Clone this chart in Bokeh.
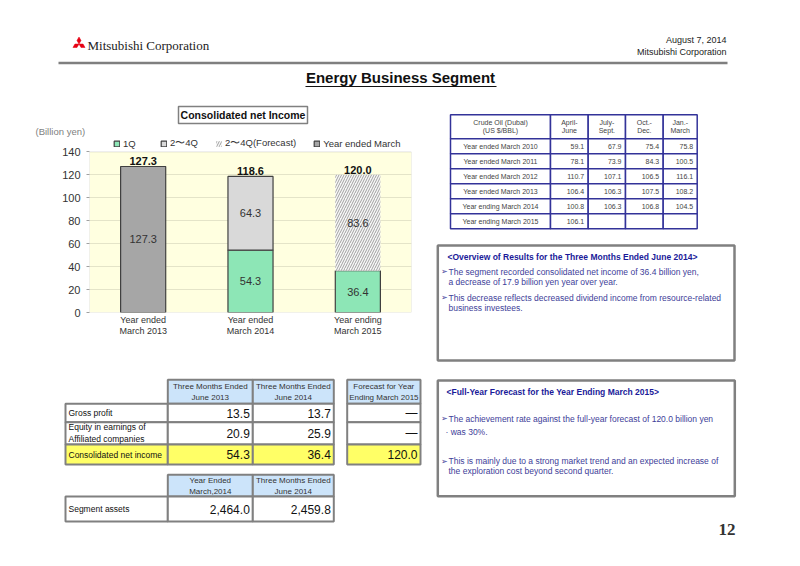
import numpy as np
from bokeh.plotting import figure
from bokeh.models import (Range1d, FactorRange, Legend, LegendItem, ColumnDataSource,
                          FixedTicker, BoxAnnotation)
from bokeh.layouts import column, row
from bokeh.embed import file_html
from bokeh.resources import INLINE
from bokeh.core.properties import value

FONT = "Liberation Sans"

# ---------------- data ----------------
categories = ["Year ended\nMarch 2013", "Year ended\nMarch 2014", "Year ending\nMarch 2015"]
q1 = [0.0, 54.3, 36.4]
q2_4 = [0.0, 64.3, 0.0]
q2_4_forecast = [0.0, 0.0, 83.6]
year_ended_march = [127.3, 0.0, 0.0]
series_names = ["1Q", "2〜4Q", "2〜4Q(Forecast)", "Year ended March"]
y_ticks = [0, 20, 40, 60, 80, 100, 120, 140]

oil_header = "Crude Oil (Dubai)\n(US $/BBL)"
oil_periods = ["April-\nJune", "July-\nSept.", "Oct.-\nDec.", "Jan.-\nMarch"]
oil_years = ["Year ended March 2010", "Year ended March 2011", "Year ended March 2012",
             "Year ended March 2013", "Year ending March 2014", "Year ending March 2015"]
oil_2010 = [59.1, 67.9, 75.4, 75.8]
oil_2011 = [78.1, 73.9, 84.3, 100.5]
oil_2012 = [110.7, 107.1, 106.5, 116.1]
oil_2013 = [106.4, 106.3, 107.5, 108.2]
oil_2014 = [100.8, 106.3, 106.8, 104.5]
oil_2015 = [106.1, None, None, None]

t1_headers = ["Three Months Ended\nJune 2013", "Three Months Ended\nJune 2014"]
t1_forecast_header = "Forecast for Year\nEnding March 2015"
t1_rows = ["Gross profit", "Equity in earnings of\nAffiliated companies", "Consolidated net income"]
t1_june2013 = [13.5, 20.9, 54.3]
t1_june2014 = [13.7, 25.9, 36.4]
t1_forecast = [None, None, 120.0]

t2_headers = ["Year Ended\nMarch,2014", "Three Months Ended\nJune 2014"]
t2_rows = ["Segment assets"]
t2_values = [2464.0, 2459.8]

overview_title = "<Overview of Results for the Three Months Ended June 2014>"
overview_bullets = ["The segment recorded consolidated net income of 36.4 billion yen,",
                    "This decrease reflects decreased dividend income from resource-related"]
overview_conts = ["a decrease of 17.9 billion yen year over year.",
                  "business investees."]
forecast_title = "<Full-Year Forecast for the Year Ending March 2015>"
forecast_bullets = ["The achievement rate against the full-year forecast of 120.0 billion yen",
                    "This is mainly due to a strong market trend and an expected increase of"]
forecast_conts = ["· was 30%.",
                  "the exploration cost beyond second quarter."]


# ---------------- helpers ----------------
def canvas(x0, x1, y0, y1):
    p = figure(width=int(round(x1 - x0)), height=int(round(y1 - y0)),
               x_range=Range1d(x0, x1), y_range=Range1d(y1, y0),
               x_axis_type=None, y_axis_type=None, output_backend="svg",
               toolbar_location=None, min_border=0, frame_align=False)
    p.outline_line_color = None
    p.background_fill_color = "white"
    p.border_fill_color = "white"
    p._texts = []
    return p


def txt(p, x, y, s, size, color="#333333", align="left", baseline="middle",
        bold=False, font=FONT):
    p._texts.append(dict(x=[x], y=[y], text=[s], text_font=value(font),
                         text_font_size=f"{size}px", text_color=color, text_align=align,
                         text_baseline=baseline,
                         text_font_style="bold" if bold else "normal"))


def flush(p):
    for kw in p._texts:
        p.text(**kw)


def cell(p, l, r, t, b, fill="white", line="#808080", lw=2.0):
    p.quad(left=[l], right=[r], top=[t], bottom=[b], fill_color=fill,
           line_color=line, line_width=lw)


# ---------------- header ----------------
head = canvas(0, 784, 0, 100)
cx, cy, L = 78.5, 43.5, 7.0
for ang in (90, 210, 330):
    th = np.radians(ang)
    s = L / np.sqrt(3)
    xs = [cx, cx + s * np.cos(th - np.pi / 6), cx + L * np.cos(th), cx + s * np.cos(th + np.pi / 6)]
    ys = [cy, cy - s * np.sin(th - np.pi / 6), cy - L * np.sin(th), cy - s * np.sin(th + np.pi / 6)]
    head.patch(xs, ys, fill_color="#E60012", line_color="#E60012", line_width=0.5)
txt(head, 87, 45, "Mitsubishi Corporation", 13, color="#222222", font="Liberation Serif")
txt(head, 726, 39, "August 7, 2014", 9, color="#222222", align="right")
txt(head, 726, 51, "Mitsubishi Corporation", 9, color="#222222", align="right")
head.line([58, 727], [62.5, 62.5], line_color="#7F7F7F", line_width=2.5)
txt(head, 400, 77, "Energy Business Segment", 15, color="#111111", align="center", bold=True)
head.line([305, 496], [86, 86], line_color="#111111", line_width=1.2)
flush(head)

# ---------------- chart header ----------------
chead = canvas(0, 424, 100, 138)
cell(chead, 178, 307, 106, 123, fill="white", line="#808080", lw=1.5)
txt(chead, 242.5, 114.5, "Consolidated net Income", 10.5, color="#111111", align="center", bold=True)
txt(chead, 35, 131, "(Billion yen)", 9.5, color="#808080")
flush(chead)

# ---------------- chart ----------------
Y_TOP = 140
chart = figure(width=424, height=207, x_range=FactorRange(*categories),
               y_range=Range1d(0, 151.7), output_backend="svg", toolbar_location=None,
               min_border_left=89, min_border_right=13, min_border_top=0,
               min_border_bottom=33, frame_align=False)
chart.background_fill_color = "white"
chart.border_fill_color = "white"
chart.outline_line_color = None
chart.add_layout(BoxAnnotation(bottom=0, top=Y_TOP, fill_color="#FFFFE0", fill_alpha=1,
                               line_color=None, level="image"))
chart.add_layout(BoxAnnotation(bottom=0, top=Y_TOP, fill_alpha=0, line_color="#A0A0A0",
                               line_width=1, level="annotation"))
chart.xgrid.grid_line_color = None
chart.ygrid.grid_line_color = "#E4E4C8"
chart.ygrid.ticker = FixedTicker(ticks=y_ticks[1:-1])
chart.yaxis.ticker = FixedTicker(ticks=y_ticks)
for ax in (chart.xaxis, chart.yaxis):
    ax.axis_line_color = None
    ax.major_label_text_font = FONT
    ax.major_label_text_color = "#333333"
    ax.minor_tick_line_color = None
chart.yaxis.major_label_text_font_size = "11px"
chart.yaxis.major_tick_line_color = "#A0A0A0"
chart.yaxis.major_tick_in = 0
chart.yaxis.major_tick_out = 3
chart.yaxis.major_label_standoff = 6
chart.xaxis.major_tick_line_color = None
chart.xaxis.major_tick_in = 0
chart.xaxis.major_tick_out = 0
chart.xaxis.major_label_text_font_size = "9px"
chart.xaxis.major_label_text_line_height = 1.1
chart.xaxis.major_label_standoff = 2

styles = [
    dict(fill_color="#8DE6B6", line_color="#404040", line_width=1.2),
    dict(fill_color="#D9D9D9", line_color="#404040", line_width=1.2),
    dict(fill_color="#F8F8F8", line_color=None, hatch_pattern="/", hatch_color="#A0A0A0",
         hatch_scale=5.0, hatch_weight=1.0),
    dict(fill_color="#A6A6A6", line_color="#404040", line_width=1.2),
]
series = [q1, q2_4, q2_4_forecast, year_ended_march]
bottom = np.zeros(len(categories))
renderers = []
for vals, st in zip(series, styles):
    v = np.array(vals, dtype=float)
    m = v > 0
    src = ColumnDataSource(dict(
        x=[c for c, k in zip(categories, m) if k],
        bottom=bottom[m], top=(bottom + v)[m], mid=(bottom + v / 2)[m],
        lab=[f"{a:.1f}" for a in v[m]]))
    r = chart.vbar(x="x", bottom="bottom", top="top", width=0.42, source=src, **st)
    renderers.append(r)
    bottom = bottom + v
    chart.text(x="x", y="mid", text="lab", source=src, text_font=value(FONT),
               text_font_size="11px", text_color="#333333", text_align="center",
               text_baseline="middle")

totals = bottom
chart.text(x=categories, y=list(totals), text=[f"{t:.1f}" for t in totals],
           text_font=value(FONT), text_font_size="11px", text_font_style="bold",
           text_color="#111111", text_align="center", text_baseline="bottom", y_offset=-1)

legend = Legend(items=[LegendItem(label=n, renderers=[r]) for n, r in zip(series_names, renderers)],
                orientation="horizontal", location=(24, 162), padding=0, margin=0,
                spacing=17, glyph_width=7, glyph_height=7, label_standoff=3,
                label_text_font=FONT, label_text_font_size="9.5px",
                label_text_color="#333333", label_height=10,
                background_fill_alpha=0, border_line_color=None)
chart.add_layout(legend, "center")

# ---------------- bottom tables ----------------
tabs = canvas(0, 424, 345, 550)
lab_l, lab_r = 65, 167.3
val_edges = [167.3, 252.3, 333.3]
fc_l, fc_r = 346.7, 420
t1_head_y = (379.3, 403.3)
t1_row_y = [403.3, 421.7, 444, 464]
YEL = "#FFFF66"
BLUE = "#CCE4FA"
HDR = 8
for i, h in enumerate(t1_headers):
    cell(tabs, val_edges[i], val_edges[i + 1], t1_head_y[0], t1_head_y[1], fill=BLUE)
    txt(tabs, (val_edges[i] + val_edges[i + 1]) / 2, sum(t1_head_y) / 2, h, HDR, align="center")
cell(tabs, fc_l, fc_r, t1_head_y[0], t1_head_y[1], fill=BLUE)
txt(tabs, (fc_l + fc_r) / 2, sum(t1_head_y) / 2, t1_forecast_header, HDR, align="center")
cols = [t1_june2013, t1_june2014]
for j, name in enumerate(t1_rows):
    t, b = t1_row_y[j], t1_row_y[j + 1]
    fill = YEL if j == len(t1_rows) - 1 else "white"
    cell(tabs, lab_l, lab_r, t, b, fill=fill)
    txt(tabs, lab_l + 3, (t + b) / 2, name, 8.5, color="#111111")
    for i, col in enumerate(cols):
        cell(tabs, val_edges[i], val_edges[i + 1], t, b, fill=fill)
        txt(tabs, val_edges[i + 1] - 3, (t + b) / 2, f"{col[j]:.1f}", 12, color="#111111", align="right")
    cell(tabs, fc_l, fc_r, t, b, fill=fill)
    fv = t1_forecast[j]
    txt(tabs, fc_r - 3, (t + b) / 2, "—" if fv is None else f"{fv:.1f}", 12, color="#111111", align="right")

t2_head_y = (474.3, 496)
t2_row_y = [496, 521]
for i, h in enumerate(t2_headers):
    cell(tabs, val_edges[i], val_edges[i + 1], t2_head_y[0], t2_head_y[1], fill=BLUE)
    txt(tabs, (val_edges[i] + val_edges[i + 1]) / 2, sum(t2_head_y) / 2, h, HDR, align="center")
cell(tabs, lab_l, lab_r, t2_row_y[0], t2_row_y[1])
txt(tabs, lab_l + 3, sum(t2_row_y) / 2, t2_rows[0], 8.5, color="#111111")
for i, v in enumerate(t2_values):
    cell(tabs, val_edges[i], val_edges[i + 1], t2_row_y[0], t2_row_y[1])
    txt(tabs, val_edges[i + 1] - 3, sum(t2_row_y) / 2, f"{v:,.1f}", 12, color="#111111", align="right")
flush(tabs)

# ---------------- right side ----------------
rt = canvas(424, 784, 100, 550)
oil_x = [450, 550, 587.7, 625, 662.7, 696.7]
oil_head_y = (114.3, 138.3)
oil_row_h = 15
NAVY = "#333399"
OILC = "#444444"
oil_rows = [oil_2010, oil_2011, oil_2012, oil_2013, oil_2014, oil_2015]
cell(rt, oil_x[0], oil_x[1], oil_head_y[0], oil_head_y[1], line=NAVY, lw=1.5)
txt(rt, (oil_x[0] + oil_x[1]) / 2, sum(oil_head_y) / 2, oil_header, 7, align="center", color=OILC)
for i, h in enumerate(oil_periods):
    cell(rt, oil_x[i + 1], oil_x[i + 2], oil_head_y[0], oil_head_y[1], line=NAVY, lw=1.5)
    txt(rt, (oil_x[i + 1] + oil_x[i + 2]) / 2, sum(oil_head_y) / 2, h, 7, align="center", color=OILC)
for j, (yname, vals) in enumerate(zip(oil_years, oil_rows)):
    t = oil_head_y[1] + j * oil_row_h
    b = t + oil_row_h
    cell(rt, oil_x[0], oil_x[1], t, b, line=NAVY, lw=1.5)
    txt(rt, (oil_x[0] + oil_x[1]) / 2, (t + b) / 2, yname, 7, align="center", color=OILC)
    for i, v in enumerate(vals):
        cell(rt, oil_x[i + 1], oil_x[i + 2], t, b, line=NAVY, lw=1.5)
        if v is not None:
            txt(rt, oil_x[i + 2] - 4, (t + b) / 2, f"{v:.1f}", 7, align="right", color=OILC)

TITLE_C = "#1A1A99"
BODY_C = "#404099"
BUL = "➢"
cell(rt, 437.3, 734, 245, 360, line="#808080", lw=2.5)
txt(rt, 447, 256, overview_title, 8.5, color=TITLE_C, bold=True)
for k, (yb, yc) in enumerate([(271, 281), (297, 307)]):
    txt(rt, 440, yb, BUL, 8, color=BODY_C)
    txt(rt, 448, yb, overview_bullets[k], 8.5, color=BODY_C)
    txt(rt, 448, yc, overview_conts[k], 8.5, color=BODY_C)

cell(rt, 437.3, 734.3, 380, 495.7, line="#808080", lw=2.5)
txt(rt, 446, 391, forecast_title, 8.5, color=TITLE_C, bold=True)
for k, (yb, yc) in enumerate([(418, 431.5), (460.5, 470.5)]):
    txt(rt, 440, yb, BUL, 8, color=BODY_C)
    txt(rt, 448, yb, forecast_bullets[k], 8.5, color=BODY_C)
    txt(rt, 445 if k == 0 else 448, yc, forecast_conts[k], 8.5, color=BODY_C)

txt(rt, 735, 529, "12", 17, color="#333333", align="right", bold=True, font="Liberation Serif")
flush(rt)

page = column(head, row(column(chead, chart, tabs, spacing=0), rt, spacing=0), spacing=0)
open("out.html", "w").write(file_html(page, INLINE))
